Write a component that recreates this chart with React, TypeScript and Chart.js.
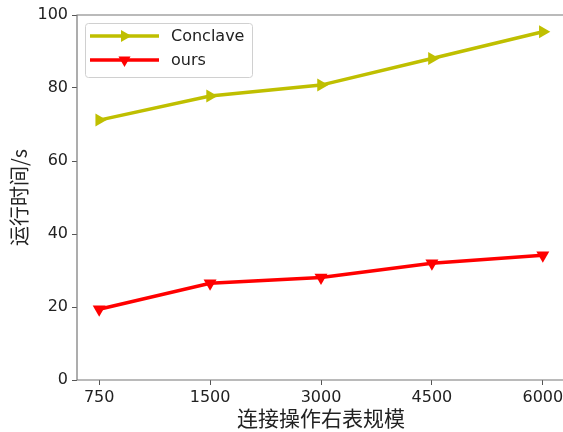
import React, { useEffect, useRef } from "react";
import { Chart, registerables } from "chart.js";

Chart.register(...registerables);

const categories = ["750", "1500", "3000", "4500", "6000"];
const conclaveValues = [71.2, 77.8, 80.8, 88.1, 95.4];
const oursValues = [19.4, 26.5, 28.1, 32.0, 34.2];
const seriesNames = ["Conclave", "ours"];
const yTicks = [0, 20, 40, 60, 80, 100];
const xTitle = "连接操作右表规模";
const yTitle = "运行时间/s";

const FONT = "'DejaVu Sans', 'Noto Sans CJK SC', sans-serif";
const CJK = "'Noto Sans CJK SC', 'DejaVu Sans', sans-serif";

const legendPlugin = {
  id: "innerLegend",
  afterDraw(chart: any) {
    const { ctx, chartArea } = chart;
    ctx.save();
    ctx.strokeStyle = "#777";
    ctx.lineWidth = 1.2;
    ctx.beginPath();
    ctx.moveTo(chartArea.right + 30, chartArea.top);
    ctx.lineTo(chartArea.left, chartArea.top);
    ctx.lineTo(chartArea.left, chartArea.bottom);
    ctx.lineTo(chartArea.right + 30, chartArea.bottom);
    ctx.stroke();

    const x0 = chartArea.left + 8;
    const y0 = chartArea.top + 8;
    const w = 167;
    const h = 54;
    ctx.fillStyle = "rgba(255,255,255,0.8)";
    ctx.strokeStyle = "#d0d0d0";
    ctx.lineWidth = 1;
    ctx.beginPath();
    (ctx as any).roundRect(x0 + 0.5, y0 + 0.5, w, h, 3);
    ctx.fill();
    ctx.stroke();

    chart.data.datasets.forEach((ds: any, i: number) => {
      const cy = y0 + 13 + i * 24;
      const lx1 = x0 + 5;
      const lx2 = x0 + 74;
      ctx.strokeStyle = ds.borderColor;
      ctx.lineWidth = 3.5;
      ctx.beginPath();
      ctx.moveTo(lx1, cy);
      ctx.lineTo(lx2, cy);
      ctx.stroke();
      const mx = (lx1 + lx2) / 2;
      const r = 7;
      ctx.fillStyle = ds.borderColor;
      ctx.save();
      ctx.translate(mx, cy);
      ctx.rotate((ds.pointRotation * Math.PI) / 180);
      ctx.beginPath();
      ctx.moveTo(0, -r);
      ctx.lineTo(r * 0.866, r * 0.5);
      ctx.lineTo(-r * 0.866, r * 0.5);
      ctx.closePath();
      ctx.fill();
      ctx.restore();
      ctx.fillStyle = "#222";
      ctx.font = `16px ${FONT}`;
      ctx.textBaseline = "middle";
      ctx.textAlign = "left";
      ctx.fillText(ds.label, x0 + 86, cy + 1);
    });
    ctx.restore();
  },
};

export default function App() {
  const ref = useRef<HTMLCanvasElement>(null);
  useEffect(() => {
    const chart = new Chart(ref.current!, {
      type: "line",
      data: {
        datasets: [
          {
            label: seriesNames[0],
            data: conclaveValues.map((v, i) => ({ x: i, y: v })),
            borderColor: "#bfbf00",
            backgroundColor: "#bfbf00",
            borderWidth: 3.5,
            pointStyle: "triangle",
            pointRotation: 90,
            pointRadius: 7.5,
            pointBorderWidth: 0,
          },
          {
            label: seriesNames[1],
            data: oursValues.map((v, i) => ({ x: i, y: v })),
            borderColor: "#ff0000",
            backgroundColor: "#ff0000",
            borderWidth: 3.5,
            pointStyle: "triangle",
            pointRotation: 180,
            pointRadius: 7.5,
            pointBorderWidth: 0,
          },
        ],
      },
      options: {
        animation: false,
        responsive: false,
        maintainAspectRatio: false,
        layout: { padding: { top: 15, right: 35, left: 0, bottom: 0 } },
        plugins: { legend: { display: false }, tooltip: { enabled: false } },
        scales: {
          x: {
            type: "linear",
            min: -0.2,
            max: 4.2,
            afterBuildTicks: (s: any) => {
              s.ticks = categories.map((_, i) => ({ value: i }));
            },
            afterFit: (s: any) => {
              s.height = 52;
            },
            ticks: {
              callback: (v: any) => categories[v as number] ?? "",
              color: "#222",
              font: { size: 16, family: FONT },
              padding: 3,
              maxRotation: 0,
            },
            grid: { drawOnChartArea: false, drawTicks: true, tickLength: 5, color: "#555" },
            border: { display: false },
            title: {
              display: true,
              text: xTitle,
              color: "#222",
              font: { size: 21, family: CJK },
              padding: { top: 0, bottom: 1 },
            },
          },
          y: {
            min: 0,
            max: 100,
            afterBuildTicks: (s: any) => {
              s.ticks = yTicks.map((v) => ({ value: v }));
            },
            afterFit: (s: any) => {
              s.width = 77;
            },
            ticks: {
              color: "#222",
              font: { size: 16, family: FONT },
              padding: 4,
            },
            grid: { drawOnChartArea: false, drawTicks: true, tickLength: 5, color: "#555" },
            border: { display: false },
            title: {
              display: true,
              text: yTitle,
              color: "#222",
              font: { size: 20, family: CJK },
              padding: { top: 7, bottom: 0 },
            },
          },
        },
      },
      plugins: [legendPlugin],
    } as any);
    return () => chart.destroy();
  }, []);
  return (
    <div
      style={{
        position: "absolute",
        left: 0,
        top: 0,
        width: 563,
        height: 432,
        overflow: "hidden",
        background: "#fff",
      }}
    >
      <canvas ref={ref} width={600} height={432} style={{ width: 600, height: 432, display: "block" }} />
    </div>
  );
}
